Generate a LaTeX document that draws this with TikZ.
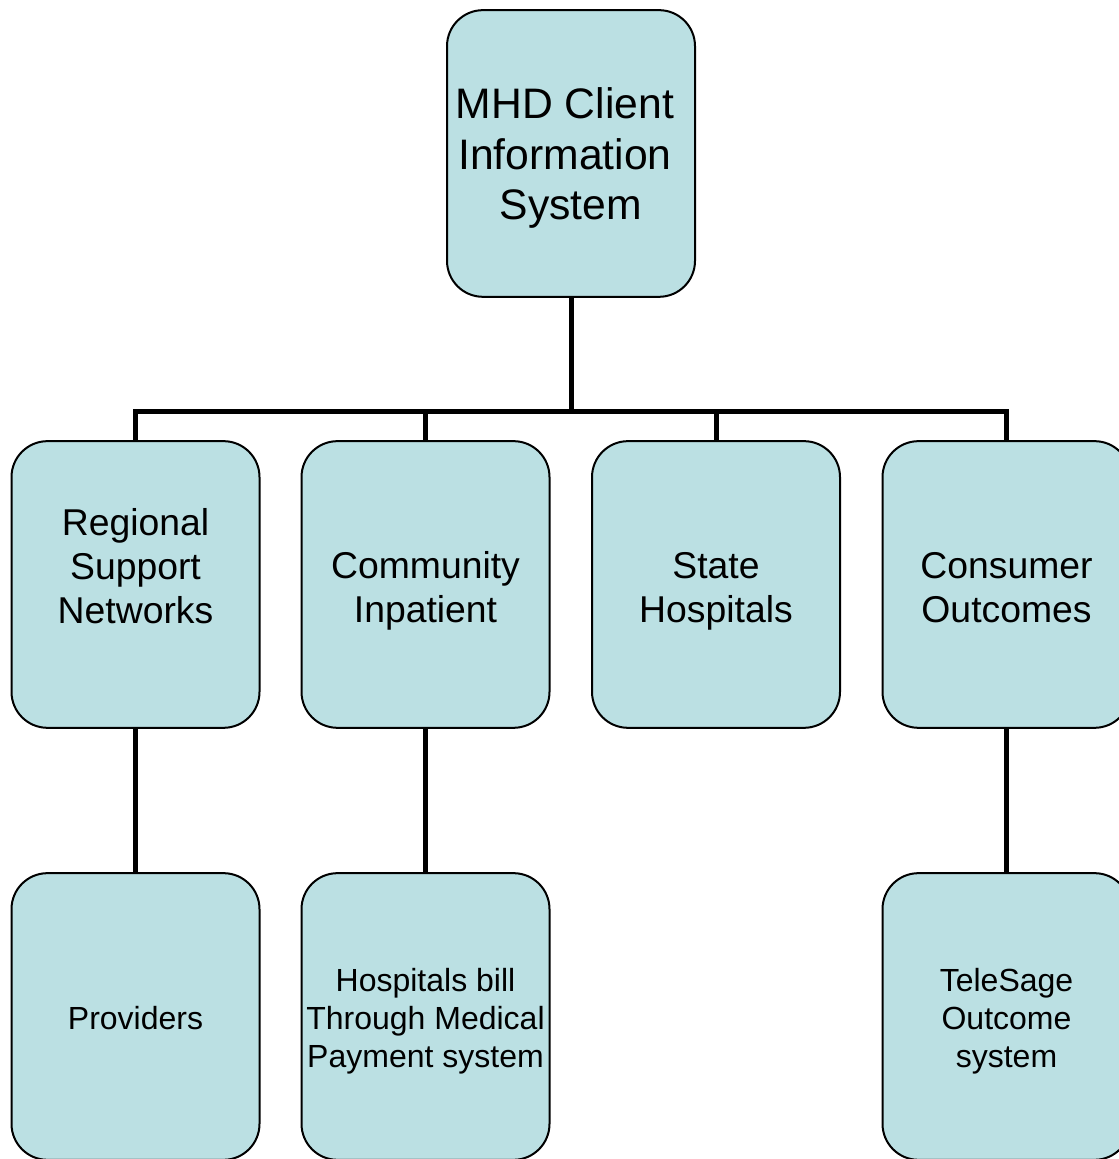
\documentclass[tikz,border=0pt]{standalone}
\usepackage{fontspec}
\setmainfont{Liberation Sans}
\definecolor{unitfill}{RGB}{187,224,227}

\tikzstyle{unit} = [draw=black, line width=1.5pt, fill=unitfill, rounded corners=27pt, minimum width=186pt, minimum height=215pt, inner sep=0pt]
\tikzstyle{toptext} = [align=center, font=\fontsize{32}{38}\selectfont]
\tikzstyle{midtext} = [align=center, font=\fontsize{28}{33}\selectfont]
\tikzstyle{lowtext} = [align=center, font=\fontsize{24}{28.5}\selectfont]
\tikzstyle{link} = [draw, line width=3.75pt, -]

\begin{document}
\begin{tikzpicture}[x=0.75pt, y=0.75pt]
  \useasboundingbox (0,0) rectangle (1119,1159);

  % top box
  \node[unit] (mhd) at (571,1005.5) {};
  \node[toptext] (mhdt) at ([xshift=-4.5pt, yshift=-3.6pt]mhd.center) {MHD Client\\Information\\\hspace*{0.28em}System};

  % second row
  \foreach \name/\txt/\x/\shift in {
    rsn/{Regional\\Support\\Networks}/135.5/14,
    ci/{Community\\Inpatient}/425.5/-5,
    sh/{State\\Hospitals}/716/-5,
    co/{Consumer\\Outcomes}/1006.5/-2}
  {
    \node[unit] (\name) at (\x,574.5) {};
    \node[midtext] (\name t) at ([yshift=\shift pt]\name.center) {\txt};
  }

  % third row
  \foreach \name/\txt/\x/\shift in {
    prov/{Providers}/135.5/-1.3,
    hb/{Hospitals bill\\Through Medical\\Payment system}/425.5/-3.5,
    tele/{TeleSage\\Outcome\\system}/1006.5/-3.5}
  {
    \node[unit] (\name) at (\x,142.5) {};
    \node[lowtext] (\name t) at ([yshift=\shift pt]\name.center) {\txt};
  }

  %edges or lines
  \coordinate (bus) at (571,747);
  \path[link] (mhd.south) -- (bus);
  \path[link] (rsn.north) |- (bus) -| (co.north);
  \path[link] (ci.north) -- (ci.north |- bus);
  \path[link] (sh.north) -- (sh.north |- bus);

  \path
  \foreach \startnode/\endnode in {rsn/prov, ci/hb, co/tele}
  {
    (\startnode.south) edge[link] (\endnode.north)
  };

\end{tikzpicture}
\end{document}
